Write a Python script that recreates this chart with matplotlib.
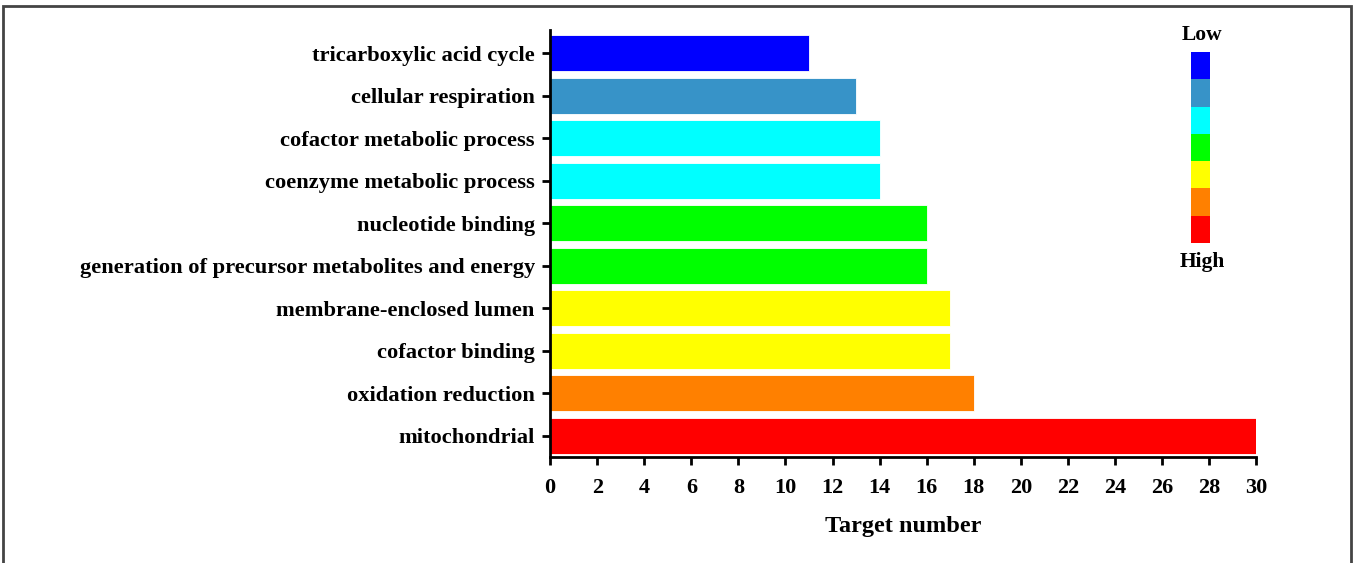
import matplotlib.pyplot as plt
from matplotlib.patches import Rectangle

plt.rcParams["font.family"] = ["Liberation Serif", "DejaVu Serif"]
plt.rcParams["font.weight"] = "bold"

terms = [
    "tricarboxylic acid cycle",
    "cellular respiration",
    "cofactor metabolic process",
    "coenzyme metabolic process",
    "nucleotide binding",
    "generation of precursor metabolites and energy",
    "membrane-enclosed lumen",
    "cofactor binding",
    "oxidation reduction",
    "mitochondrial",
]
counts = [11, 13, 14, 14, 16, 16, 17, 17, 18, 30]
bar_colors = [
    "#0000ff", "#3793c8", "#00ffff", "#00ffff", "#00ff00",
    "#00ff00", "#ffff00", "#ffff00", "#ff8000", "#ff0000",
]
scale_colors = ["#0000ff", "#3793c8", "#00ffff", "#00ff00", "#ffff00", "#ff8000", "#ff0000"]
xticks = list(range(0, 31, 2))

fig = plt.figure(figsize=(13.55, 5.63), dpi=100)

# outer frame
fig.patches.append(
    Rectangle((0.0025, -0.01), 0.9945, 1.0, transform=fig.transFigure,
              fill=False, edgecolor="#444444", linewidth=2)
)

ax = fig.add_axes([0.406, 0.188, 0.521, 0.759])
ypos = list(range(len(terms)))[::-1]
ax.barh(ypos, counts, height=0.85, color=bar_colors, edgecolor="white", linewidth=0.6)

ax.set_xlim(0, 30)
ax.set_ylim(-0.5, 9.55)
ax.set_xticks(xticks)
ax.set_yticks(ypos)
ax.set_yticklabels(terms)
ax.tick_params(axis="both", direction="out", length=6, width=2)
ax.tick_params(axis="y", labelsize=16.2, pad=5)
ax.tick_params(axis="x", labelsize=16, pad=9)
for lab in ax.get_xticklabels() + ax.get_yticklabels():
    lab.set_fontweight("bold")
ax.spines["top"].set_visible(False)
ax.spines["right"].set_visible(False)
ax.spines["left"].set_linewidth(2)
ax.spines["bottom"].set_linewidth(2)
ax.set_xlabel("Target number", fontsize=17.5, fontweight="bold", labelpad=13)

# color scale legend
lax = fig.add_axes([1191 / 1355, 1 - 243 / 563, 19 / 1355, 191 / 563])
n = len(scale_colors)
lax.bar([0] * n, [1] * n, bottom=list(range(n))[::-1], width=1, color=scale_colors)
lax.set_xlim(-0.5, 0.5)
lax.set_ylim(0, n)
lax.axis("off")
fig.text(1202 / 1355, 1 - 35 / 563, "Low", ha="center", va="center", fontsize=15.5, fontweight="bold")
fig.text(1202 / 1355, 1 - 262 / 563, "High", ha="center", va="center", fontsize=15.5, fontweight="bold")

fig.savefig("out.png", dpi=100)
